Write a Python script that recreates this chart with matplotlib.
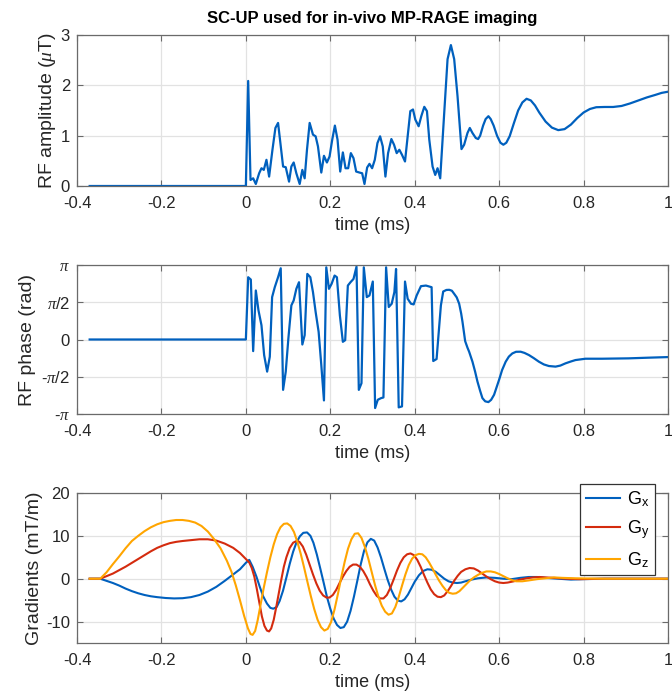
import numpy as np
import matplotlib
matplotlib.use("Agg")
import matplotlib.pyplot as plt

plt.rcParams['font.family'] = ['Liberation Sans', 'DejaVu Sans']
plt.rcParams['axes.unicode_minus'] = False
plt.rcParams['mathtext.fontset'] = 'custom'
plt.rcParams['mathtext.rm'] = 'Liberation Sans'
plt.rcParams['mathtext.it'] = 'Liberation Serif:italic'

# ---------------- data ----------------
amp_t = [-0.37, 0.0, 0.0055, 0.011, 0.0173, 0.0236, 0.0315, 0.037, 0.0425, 0.0488, 0.0551,
         0.063, 0.070, 0.0763, 0.0882, 0.0945, 0.1023, 0.1078, 0.1133, 0.1196, 0.1275,
         0.1338, 0.1393, 0.1448, 0.1511, 0.159, 0.1653, 0.1708, 0.1787, 0.185, 0.192,
         0.1983, 0.2046, 0.2109, 0.2172, 0.2235, 0.2298, 0.2361, 0.2424, 0.2487, 0.255,
         0.2613, 0.2692, 0.2755, 0.281, 0.2873, 0.2928, 0.2991, 0.3054, 0.3117, 0.318,
         0.3243, 0.3306, 0.3369, 0.3447, 0.351, 0.3573, 0.3636, 0.3699, 0.377, 0.3833,
         0.3896, 0.3959, 0.4014, 0.4093, 0.4156, 0.4227, 0.429, 0.4345, 0.4423, 0.4486,
         0.4541, 0.4604, 0.4699, 0.4778, 0.4857, 0.4935, 0.5014, 0.5108, 0.5171, 0.525,
         0.5305, 0.5368, 0.5447, 0.5502, 0.555, 0.562, 0.568, 0.5746, 0.58, 0.587,
         0.595, 0.603, 0.61, 0.617, 0.625, 0.635, 0.645, 0.655, 0.665, 0.675,
         0.685, 0.695, 0.71, 0.725, 0.74, 0.755, 0.77, 0.785, 0.80, 0.815,
         0.83, 0.85, 0.87, 0.89, 0.91, 0.93, 0.95, 0.97, 0.985, 1.0]
amp_v = [0.0, 0.0, 2.087, 0.12, 0.153, 0.04, 0.253, 0.353, 0.32, 0.52, 0.187,
         0.72, 1.153, 1.253, 0.387, 0.373, 0.087, 0.387, 0.467, 0.253, 0.04,
         0.32, 0.153, 0.72, 1.253, 1.02, 0.987, 0.787, 0.267, 0.6, 0.467,
         0.587, 0.92, 1.2, 0.92, 0.287, 0.667, 0.353, 0.353, 0.653, 0.553,
         0.287, 0.267, 0.253, 0.04, 0.367, 0.44, 0.353, 0.52, 0.853, 0.987,
         0.787, 0.187, 0.653, 0.933, 0.82, 0.653, 0.72, 0.62, 0.487, 0.987,
         1.487, 1.52, 1.32, 1.187, 1.387, 1.573, 1.487, 0.92, 0.387, 0.22,
         0.353, 0.153, 1.453, 2.52, 2.8, 2.52, 1.787, 0.733, 0.82, 1.053,
         1.153, 1.053, 0.953, 0.933, 1.0, 1.2, 1.33, 1.387, 1.33, 1.2,
         1.0, 0.86, 0.82, 0.86, 0.99, 1.25, 1.5, 1.66, 1.733, 1.7,
         1.6, 1.46, 1.28, 1.16, 1.11, 1.13, 1.22, 1.35, 1.46, 1.53,
         1.565, 1.57, 1.57, 1.59, 1.64, 1.70, 1.76, 1.81, 1.85, 1.873]

# phase in units of pi
ph_t = [-0.37, 0.0, 0.0055, 0.0118, 0.0173, 0.0236, 0.0299, 0.037, 0.0433, 0.0504, 0.0567,
        0.0622, 0.0685, 0.0763, 0.0826, 0.0882, 0.0945, 0.1007, 0.1078, 0.1133, 0.1196,
        0.1259, 0.1338, 0.1393, 0.1456, 0.1527, 0.159, 0.1653, 0.1724, 0.1787, 0.185,
        0.1905, 0.1968, 0.2031, 0.2102, 0.2157, 0.2227, 0.2298, 0.2353, 0.2416, 0.2479,
        0.255, 0.2621, 0.2676, 0.2739, 0.2794, 0.2865, 0.2928, 0.3007, 0.3062, 0.3125,
        0.3203, 0.3259, 0.3322, 0.3385, 0.3455, 0.3518, 0.3558, 0.3621, 0.3699, 0.377,
        0.3833, 0.3912, 0.3975, 0.4046, 0.4148, 0.4266, 0.44, 0.4439, 0.4518, 0.462,
        0.4675, 0.475, 0.4817, 0.488, 0.4935, 0.4995, 0.5053, 0.51, 0.5132, 0.5195,
        0.525, 0.5289, 0.5368, 0.543, 0.5486, 0.555, 0.5604, 0.567, 0.5746, 0.581,
        0.588, 0.5998, 0.607, 0.6155, 0.623, 0.6312, 0.64, 0.6509, 0.66, 0.6706,
        0.682, 0.6942, 0.706, 0.7178, 0.7336, 0.745, 0.7572, 0.77, 0.7808, 0.8044,
        0.8438, 0.9067, 0.954, 1.0]
ph_v = [0.0, 0.0, 0.836, 0.804, -0.156, 0.658, 0.391, 0.191, -0.209, -0.431, -0.231,
        0.569, 0.702, 0.836, 0.956, -0.676, -0.431, 0.013, 0.458, 0.524, 0.68,
        0.769, -0.067, 0.058, 0.88, 0.836, 0.636, 0.369, 0.102, -0.342, -0.818,
        0.969, 0.68, 0.747, 0.858, 0.836, 0.324, -0.031, -0.009, 0.724, 0.769,
        0.813, 0.978, -0.676, -0.587, 0.969, 0.569, 0.591, 0.778, -0.92, -0.809,
        -0.787, -0.778, 0.969, 0.436, 0.48, 0.636, 0.947, -0.911, -0.898, 0.778,
        0.547, 0.48, 0.471, 0.591, 0.716, 0.724, 0.702, -0.289, -0.262, 0.458,
        0.644, 0.665, 0.667, 0.655, 0.613, 0.565, 0.48, 0.35, 0.236, -0.022,
        -0.11, -0.164, -0.298, -0.43, -0.564, -0.69, -0.787, -0.83, -0.84, -0.81,
        -0.742, -0.542, -0.41, -0.298, -0.23, -0.187, -0.165, -0.164, -0.18, -0.209,
        -0.25, -0.298, -0.335, -0.356, -0.364, -0.35, -0.32, -0.295, -0.276, -0.258,
        -0.258, -0.253, -0.244, -0.236]

gx_t = [-0.37, -0.345, -0.33, -0.315, -0.30, -0.285, -0.27, -0.255, -0.24, -0.225, -0.21,
        -0.19, -0.17, -0.15, -0.13, -0.11, -0.09, -0.07, -0.05, -0.03, -0.014,
        0.0, 0.008, 0.016, 0.025, 0.033, 0.041, 0.05, 0.058, 0.065, 0.073,
        0.08, 0.088, 0.096, 0.104, 0.112, 0.12, 0.128, 0.136, 0.145, 0.153,
        0.16, 0.168, 0.176, 0.184, 0.192, 0.20, 0.208, 0.216, 0.224, 0.232,
        0.24, 0.248, 0.256, 0.264, 0.272, 0.28, 0.288, 0.296, 0.304, 0.312,
        0.32, 0.328, 0.336, 0.344, 0.352, 0.36, 0.368, 0.376, 0.384, 0.392,
        0.40, 0.41, 0.42, 0.43, 0.44, 0.45, 0.46, 0.47, 0.48, 0.49,
        0.50, 0.51, 0.52, 0.535, 0.55, 0.57, 0.59, 0.61, 0.63, 0.65,
        0.67, 0.69, 0.71, 0.74, 0.77, 0.80, 0.85, 1.0]
gx_v = [0.0, 0.0, -0.5, -1.0, -1.6, -2.3, -2.9, -3.4, -3.8, -4.1, -4.3,
        -4.5, -4.6, -4.55, -4.3, -3.8, -3.0, -1.9, -0.5, 1.0, 2.2,
        3.7, 4.4, 2.8, 0.5, -1.9, -4.1, -5.8, -6.8, -7.0, -6.6,
        -5.2, -2.8, 0.3, 3.5, 6.3, 8.5, 9.9, 10.7, 10.8, 10.0,
        8.4, 5.7, 2.5, -0.8, -4.2, -7.0, -9.3, -10.8, -11.5, -11.3,
        -10.0, -7.5, -4.2, -0.5, 3.3, 6.5, 8.5, 9.3, 8.9, 7.3,
        5.0, 2.3, -0.3, -2.5, -4.2, -5.1, -5.3, -4.8, -3.7, -2.2,
        -0.7, 0.8, 1.8, 2.2, 2.1, 1.6, 0.8, 0.0, -0.6, -0.9,
        -1.0, -0.9, -0.6, -0.2, 0.1, 0.3, 0.2, 0.0, -0.1, 0.2,
        0.4, 0.4, 0.2, 0.0, -0.2, -0.1, 0.0, 0.0]

gy_t = [-0.37, -0.345, -0.33, -0.315, -0.30, -0.285, -0.27, -0.255, -0.24, -0.225, -0.21,
        -0.195, -0.18, -0.165, -0.15, -0.13, -0.11, -0.09, -0.07, -0.05, -0.03,
        -0.014, 0.0, 0.008, 0.014, 0.02, 0.026, 0.032, 0.038, 0.044, 0.05,
        0.055, 0.06, 0.066, 0.072, 0.078, 0.084, 0.09, 0.096, 0.104, 0.112,
        0.12, 0.127, 0.135, 0.143, 0.151, 0.159, 0.167, 0.175, 0.183, 0.191,
        0.198, 0.206, 0.214, 0.222, 0.23, 0.238, 0.246, 0.254, 0.262, 0.27,
        0.278, 0.286, 0.294, 0.302, 0.31, 0.318, 0.326, 0.334, 0.342, 0.35,
        0.358, 0.366, 0.374, 0.382, 0.39, 0.398, 0.406, 0.414, 0.422, 0.43,
        0.438, 0.446, 0.454, 0.462, 0.47, 0.478, 0.486, 0.494, 0.502, 0.51,
        0.52, 0.53, 0.54, 0.55, 0.56, 0.57, 0.58, 0.59, 0.60, 0.61,
        0.62, 0.635, 0.65, 0.665, 0.68, 0.695, 0.71, 0.73, 0.76, 0.79,
        0.85, 1.0]
gy_v = [0.0, 0.0, 0.6, 1.2, 2.0, 2.8, 3.7, 4.6, 5.5, 6.4, 7.2,
        7.8, 8.3, 8.6, 8.8, 9.0, 9.2, 9.2, 8.9, 8.2, 7.2,
        6.0, 4.6, 3.8, 2.5, 0.5, -2.4, -5.6, -8.8, -11.0, -12.1,
        -12.3, -11.6, -9.6, -6.6, -3.4, -0.2, 2.8, 5.0, 7.2, 8.4,
        8.8, 8.6, 7.5, 5.6, 3.3, 1.0, -1.1, -2.8, -3.9, -4.4,
        -4.4, -3.8, -2.6, -1.0, 0.5, 1.8, 2.8, 3.3, 3.3, 2.8,
        1.8, 0.4, -1.3, -2.8, -4.0, -4.6, -4.6, -3.8, -2.2, -0.2,
        1.9, 3.7, 5.0, 5.7, 5.9, 5.5, 4.4, 2.8, 0.9, -0.9,
        -2.5, -3.6, -4.2, -4.3, -3.9, -2.9, -1.7, -0.4, 0.7, 1.6,
        2.2, 2.5, 2.4, 1.9, 1.2, 0.5, -0.1, -0.6, -0.9, -1.0,
        -0.9, -0.6, -0.2, 0.1, 0.3, 0.4, 0.3, 0.2, 0.0, -0.1,
        0.0, 0.0]

gz_t = [-0.37, -0.345, -0.33, -0.315, -0.30, -0.285, -0.27, -0.255, -0.24, -0.225, -0.21,
        -0.195, -0.18, -0.165, -0.15, -0.135, -0.12, -0.105, -0.09, -0.075, -0.06,
        -0.045, -0.034, -0.024, -0.014, -0.004, 0.005, 0.011, 0.016, 0.022, 0.028,
        0.035, 0.042, 0.05, 0.058, 0.066, 0.074, 0.082, 0.09, 0.098, 0.106,
        0.114, 0.122, 0.13, 0.138, 0.146, 0.154, 0.162, 0.17, 0.178, 0.186,
        0.194, 0.202, 0.21, 0.218, 0.226, 0.234, 0.242, 0.25, 0.258, 0.266,
        0.274, 0.282, 0.29, 0.298, 0.306, 0.314, 0.322, 0.33, 0.338, 0.346,
        0.354, 0.362, 0.37, 0.378, 0.386, 0.394, 0.402, 0.41, 0.418, 0.426,
        0.434, 0.442, 0.45, 0.458, 0.466, 0.474, 0.482, 0.49, 0.498, 0.506,
        0.514, 0.522, 0.53, 0.54, 0.55, 0.56, 0.57, 0.58, 0.59, 0.60,
        0.61, 0.62, 0.63, 0.64, 0.655, 0.67, 0.69, 0.71, 0.73, 0.75,
        0.78, 0.85, 1.0]
gz_v = [0.0, 0.0, 1.5, 3.4, 5.2, 7.1, 8.8, 10.0, 11.1, 12.0, 12.7,
        13.2, 13.5, 13.7, 13.7, 13.5, 13.1, 12.3, 11.0, 9.2, 7.1,
        4.2, 1.6, -1.5, -5.0, -8.7, -11.6, -12.9, -13.1, -12.2, -9.7,
        -6.0, -2.3, 1.5, 5.0, 8.0, 10.4, 12.0, 12.8, 12.9, 12.3,
        10.9, 8.6, 5.8, 2.6, -0.8, -4.1, -7.1, -9.6, -11.3, -12.1,
        -11.7, -10.1, -7.2, -3.6, 0.3, 3.9, 7.0, 9.2, 10.5, 10.6,
        9.5, 7.4, 4.7, 1.6, -1.5, -4.2, -6.3, -7.7, -8.4, -8.1,
        -6.6, -4.3, -1.6, 1.0, 3.2, 4.7, 5.5, 5.8, 5.7, 5.0,
        3.8, 2.4, 0.9, -0.5, -1.7, -2.7, -3.3, -3.5, -3.4, -2.9,
        -2.1, -1.3, -0.5, 0.3, 0.9, 1.4, 1.7, 1.7, 1.5, 1.1,
        0.6, 0.1, -0.3, -0.6, -0.6, -0.4, -0.1, 0.1, 0.3, 0.2,
        0.1, 0.0, 0.0]

x_ticks = [-0.4, -0.2, 0, 0.2, 0.4, 0.6, 0.8, 1]
x_ticklabels = ['-0.4', '-0.2', '0', '0.2', '0.4', '0.6', '0.8', '1']
ph_ticks = [-np.pi, -np.pi / 2, 0, np.pi / 2, np.pi]
ph_ticklabels = [r'-$\pi$', r'-$\pi$/2', '0', r'$\pi$/2', r'$\pi$']
grad_labels = [r'G$_\mathregular{x}$', r'G$_\mathregular{y}$', r'G$_\mathregular{z}$']

# ---------------- style ----------------
BLUE = '#0060BE'
RED = '#D42B0E'
ORANGE = '#FFA500'
AXC = '#6a6a6a'
TXT = '#262626'
TICK_FS = 12
LAB_FS = 13
YLAB_FS = 14

fig = plt.figure(figsize=(6.72, 6.95), dpi=100)
W = 591 / 672
L = 77 / 672
ax1 = fig.add_axes([L, 1 - 186 / 695, W, 151 / 695])
ax2 = fig.add_axes([L, 1 - 414 / 695, W, 149 / 695])
ax3 = fig.add_axes([L, 1 - 643 / 695, W, 150 / 695])


def style(ax):
    ax.set_xlim(-0.4, 1)
    ax.set_xticks(x_ticks)
    ax.set_xticklabels(x_ticklabels)
    ax.grid(True, color='#e2e2e2', linewidth=0.9)
    ax.set_axisbelow(True)
    for s in ax.spines.values():
        s.set_color(AXC)
        s.set_linewidth(0.9)
    ax.tick_params(direction='in', top=True, right=True, length=4, width=0.8,
                   color=AXC, labelcolor=TXT, labelsize=TICK_FS)
    ax.tick_params(axis='x', pad=7.5)
    ax.tick_params(axis='y', pad=5)
    ax.set_xlabel('time (ms)', fontsize=LAB_FS, color=TXT, labelpad=4)


ax1.plot(amp_t, amp_v, color=BLUE, linewidth=1.6)
style(ax1)
ax1.set_ylim(0, 3)
ax1.set_yticks([0, 1, 2, 3])
ax1.set_ylabel(r'RF amplitude ($\mu$T)', fontsize=YLAB_FS, color=TXT, labelpad=2)
ax1.set_title('SC-UP used for in-vivo MP-RAGE imaging', fontsize=12,
              fontweight='bold', color='black', pad=9)

ax2.plot(np.array(ph_t), np.array(ph_v) * np.pi, color=BLUE, linewidth=1.6)
style(ax2)
ax2.set_ylim(-np.pi, np.pi)
ax2.set_yticks(ph_ticks)
ax2.set_yticklabels(ph_ticklabels)
for lab in ax2.get_yticklabels():
    if lab.get_text() != '0':
        lab.set_fontsize(12)
ax2.set_ylabel('RF phase (rad)', fontsize=YLAB_FS, color=TXT, labelpad=4)

lx, = ax3.plot(gx_t, gx_v, color=BLUE, linewidth=1.5)
ly, = ax3.plot(gy_t, gy_v, color=RED, linewidth=1.5)
lz, = ax3.plot(gz_t, gz_v, color=ORANGE, linewidth=1.5)
style(ax3)
ax3.set_ylim(-15, 20)
ax3.set_yticks([-10, 0, 10, 20])
ax3.set_ylabel('Gradients (mT/m)', fontsize=YLAB_FS, color=TXT, labelpad=2)
leg = fig.legend([lx, ly, lz], grad_labels, loc='upper right',
                 bbox_to_anchor=(655 / 672, 1 - 484 / 695), bbox_transform=fig.transFigure,
                 fontsize=13, frameon=True, fancybox=False, framealpha=1,
                 edgecolor='#333333', borderaxespad=0, handlelength=1.9,
                 handletextpad=0.4, borderpad=0.3, labelspacing=0.5)
leg.get_frame().set_linewidth(0.9)

fig.savefig('out.png', dpi=100)
